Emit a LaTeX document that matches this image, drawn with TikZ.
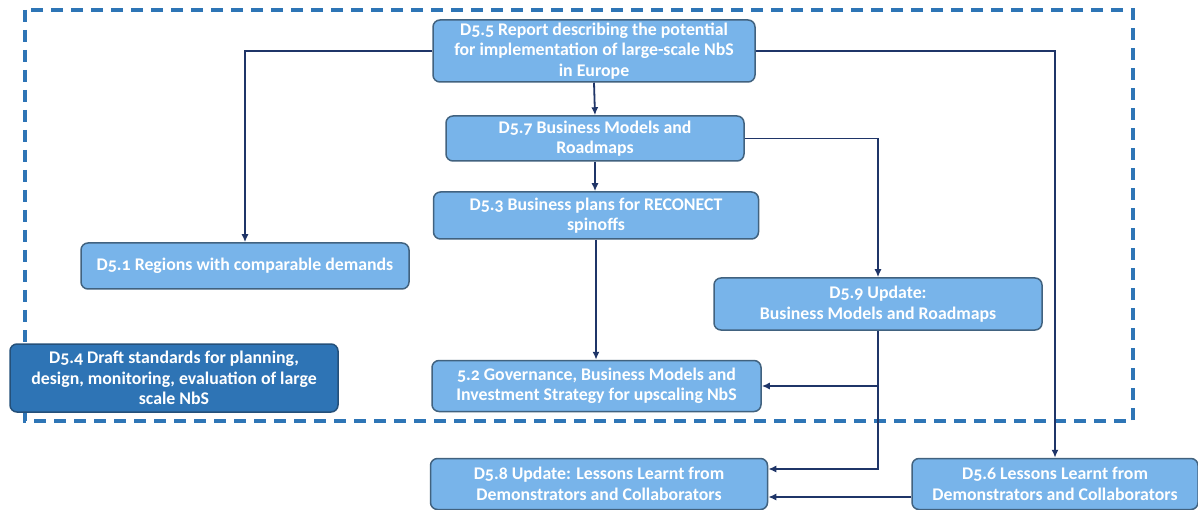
\documentclass[tikz,border=0pt]{standalone}
\usepackage{fontspec}
\setmainfont{Carlito}[Numbers=OldStyle]
\usetikzlibrary{arrows.meta}
\definecolor{boxfill}{HTML}{78B4EA}
\definecolor{boxline}{HTML}{41627F}
\definecolor{darkfill}{HTML}{2E74B5}
\definecolor{darkline}{HTML}{24507A}
\definecolor{wire}{HTML}{1F3568}
\definecolor{frame}{HTML}{2E75B6}
\tikzset{
  box/.style={draw=boxline, fill=boxfill, line width=1.5pt, rounded corners=7pt,
    text=white, align=center, inner sep=0pt,
    font=\fontsize{17.8}{20.5}\selectfont\bfseries},
  darkbox/.style={box, draw=darkline, fill=darkfill},
  arr/.style={draw=wire, line width=1.8pt, -{Latex[length=8pt,width=7pt]}},
  group/.style={draw=frame, line width=3.2pt, dash pattern=on 12pt off 8pt}
}
\begin{document}
\begin{tikzpicture}[x=1pt,y=-1pt]
\useasboundingbox (0,0) rectangle (1198,510);
\fill[white] (0,0) rectangle (1198,510);

% work-package boundary
\draw[group] (25,10) rectangle (1133,421);

% deliverables
\node[box, minimum width=322pt, minimum height=62pt] (d55) at (594,51)
  {D5.5 Report describing the potential\\for implementation of large-scale NbS\\in Europe};
\node[box, minimum width=298pt, minimum height=45pt] (d57) at (595,138.5)
  {D5.7 Business Models and\\Roadmaps};
\node[box, minimum width=325pt, minimum height=47pt] (d53) at (596,215.5)
  {D5.3 Business plans for RECONECT\\spinoffs};
\node[box, minimum width=328pt, minimum height=46pt] (d51) at (245,266)
  {D5.1 Regions with comparable demands};
\node[box, minimum width=328pt, minimum height=52pt] (d59) at (878,304)
  {D5.9 Update:\\Business Models and Roadmaps};
\node[darkbox, minimum width=328pt, minimum height=68pt] (d54) at (174,378)
  {D5.4 Draft standards for planning,\\design, monitoring, evaluation of large\\scale NbS};
\node[box, minimum width=329pt, minimum height=51pt] (d52) at (596.5,386)
  {5.2 Governance, Business Models and\\Investment Strategy for upscaling NbS};
\node[box, minimum width=337pt, minimum height=51pt] (d58) at (599,484)
  {D5.8 Update: Lessons Learnt from\\Demonstrators and Collaborators};
\node[box, minimum width=286pt, minimum height=51pt] (d56) at (1055,484)
  {D5.6 Lessons Learnt from\\Demonstrators and Collaborators};

% dependencies
\draw[arr] (d55.west) -| (d51.north);
\draw[arr] (d55.east) -| (d56.north);
\draw[arr] (d55.south) -- (d57.north);
\draw[arr] (d57.south) -- (d57.south |- d53.north);
\draw[arr] (d57.east) -| (d59.north);
\draw[arr] (d53.south) -- (d53.south |- d52.north);
\draw[arr] (d59.south) |- (d52.east);
\draw[arr] (d59.south) |- ([yshift=15pt]d58.east);
\draw[arr] ([yshift=-13pt]d56.west) -- ([yshift=-13pt]d58.east);
\end{tikzpicture}
\end{document}
